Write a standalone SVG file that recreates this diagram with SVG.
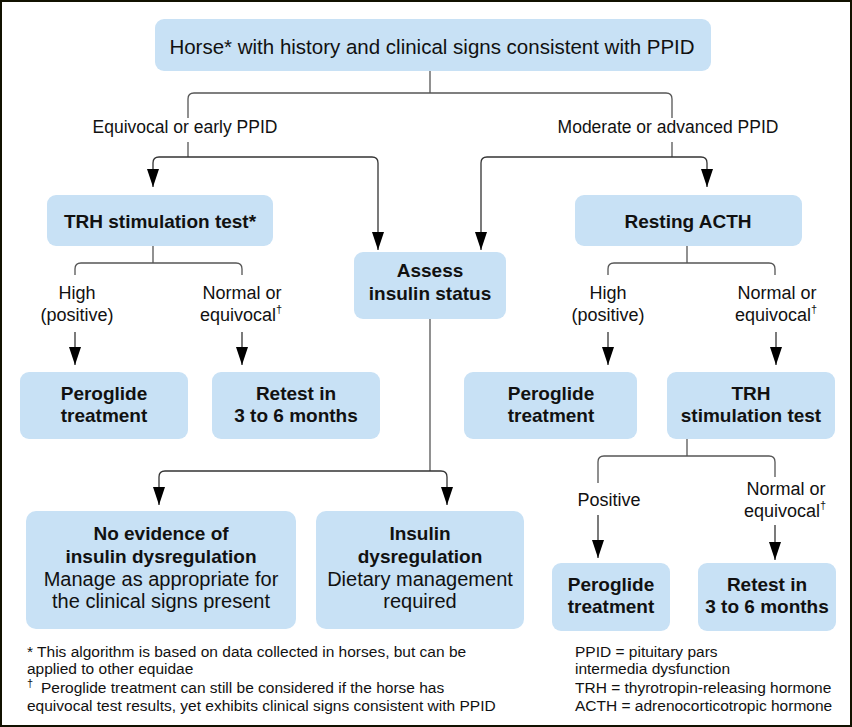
<svg xmlns="http://www.w3.org/2000/svg" width="852" height="727" viewBox="0 0 852 727">
<defs>
<marker id="ah" markerUnits="userSpaceOnUse" markerWidth="18" markerHeight="12" viewBox="0 0 18 12" refX="18" refY="6" orient="auto">
<path d="M0,0 L18,6 L0,12 z" fill="#000"/>
</marker>
<style>
.box{fill:#c8e1f5;}
.t{font-family:"Liberation Sans",Arial,sans-serif;fill:#111;}
.title{font-size:20.5px;text-anchor:middle;}
.b{font-size:19px;font-weight:bold;text-anchor:middle;}
.r{font-size:20px;text-anchor:middle;}
.lab{font-size:18px;text-anchor:middle;}
.lab2{font-size:17.5px;text-anchor:middle;}
.fn{font-size:15.5px;}
.sup{font-size:11px;}
.ln{fill:none;stroke:#555;stroke-width:1.3;}
.ar{fill:none;stroke:#333;stroke-width:1.3;marker-end:url(#ah);}
</style>
</defs>
<rect x="1" y="1" width="850" height="725" fill="#fff" stroke="#111100" stroke-width="2"/>

<g id="connectors">
<path class="ln" d="M430,71 V93"/>
<path class="ln" d="M188,118 V99 Q188,93 194,93 H666 Q672,93 672,99 V118"/>
<path class="ln" d="M188,142 V157"/>
<path class="ar" d="M188,157 H159 Q153,157 153,163 V187"/>
<path class="ar" d="M188,157 H372 Q378,157 378,163 V250"/>
<path class="ln" d="M672,142 V157"/>
<path class="ar" d="M672,157 H701 Q707,157 707,163 V187"/>
<path class="ar" d="M672,157 H487 Q481,157 481,163 V250"/>

<path class="ln" d="M153,246 V263"/>
<path class="ln" d="M75,275 V269 Q75,263 81,263 H236 Q242,263 242,269 V275"/>
<path class="ar" d="M75,332 V365"/>
<path class="ar" d="M242,332 V365"/>

<path class="ln" d="M687,246 V263"/>
<path class="ln" d="M608,275 V269 Q608,263 614,263 H769 Q775,263 775,269 V275"/>
<path class="ar" d="M608,332 V365"/>
<path class="ar" d="M776,332 V365"/>

<path class="ln" d="M430,319 V471"/>
<path class="ar" d="M430,471 H165 Q159,471 159,477 V505"/>
<path class="ar" d="M430,471 H441 Q447,471 447,477 V505"/>

<path class="ln" d="M687,438 V456"/>
<path class="ln" d="M598,483 V462 Q598,456 604,456 H769 Q775,456 775,462 V477"/>
<path class="ar" d="M598,515 V558"/>
<path class="ar" d="M775,525 V560"/>
</g>

<g id="n-top">
<rect class="box" x="155" y="19" width="556" height="52" rx="9"/>
<text class="t title" x="432" y="54">Horse* with history and clinical signs consistent with PPID</text>
</g>

<g id="lab-equivocal"><text class="t lab2" x="185" y="133">Equivocal or early PPID</text></g>
<g id="lab-moderate"><text class="t lab2" x="668" y="133">Moderate or advanced PPID</text></g>

<g id="n-trh1">
<rect class="box" x="47" y="195" width="226" height="51" rx="9"/>
<text class="t b" x="160" y="228">TRH stimulation test*</text>
</g>

<g id="n-acth">
<rect class="box" x="575" y="195" width="227" height="51" rx="9"/>
<text class="t b" x="688" y="228">Resting ACTH</text>
</g>

<g id="n-assess">
<rect class="box" x="354" y="252" width="152" height="67" rx="9"/>
<text class="t b" x="430" y="277">Assess</text>
<text class="t b" x="430" y="300">insulin status</text>
</g>

<g id="lab-high1"><text class="t lab" x="77" y="299">High</text><text class="t lab" x="77" y="321">(positive)</text></g>
<g id="lab-normal1"><text class="t lab" x="242" y="299">Normal or</text><text class="t lab" x="241" y="321">equivocal<tspan class="sup" dy="-8">†</tspan></text></g>
<g id="lab-high2"><text class="t lab" x="608" y="299">High</text><text class="t lab" x="608" y="321">(positive)</text></g>
<g id="lab-normal2"><text class="t lab" x="777" y="299">Normal or</text><text class="t lab" x="776" y="321">equivocal<tspan class="sup" dy="-8">†</tspan></text></g>

<g id="n-pero1">
<rect class="box" x="20" y="372" width="168" height="67" rx="9"/>
<text class="t b" x="104" y="400">Peroglide</text>
<text class="t b" x="104" y="422">treatment</text>
</g>

<g id="n-retest1">
<rect class="box" x="212" y="372" width="168" height="67" rx="9"/>
<text class="t b" x="296" y="400">Retest in</text>
<text class="t b" x="296" y="422">3 to 6 months</text>
</g>

<g id="n-pero2">
<rect class="box" x="464" y="372" width="173" height="67" rx="9"/>
<text class="t b" x="551" y="400">Peroglide</text>
<text class="t b" x="551" y="422">treatment</text>
</g>

<g id="n-trh2">
<rect class="box" x="667" y="372" width="168" height="67" rx="9"/>
<text class="t b" x="751" y="400">TRH</text>
<text class="t b" x="751" y="422">stimulation test</text>
</g>

<g id="lab-positive"><text class="t lab" x="609" y="506">Positive</text></g>
<g id="lab-normal3"><text class="t lab" x="786" y="495">Normal or</text><text class="t lab" x="785" y="517">equivocal<tspan class="sup" dy="-8">†</tspan></text></g>

<g id="n-noevidence">
<rect class="box" x="26" y="511" width="270" height="118" rx="10"/>
<text class="t b" x="161" y="540">No evidence of</text>
<text class="t b" x="161" y="563">insulin dysregulation</text>
<text class="t r" x="161" y="586">Manage as appropriate for</text>
<text class="t r" x="161" y="608">the clinical signs present</text>
</g>

<g id="n-insulin">
<rect class="box" x="316" y="511" width="208" height="118" rx="10"/>
<text class="t b" x="420" y="540">Insulin</text>
<text class="t b" x="420" y="563">dysregulation</text>
<text class="t r" x="420" y="586">Dietary management</text>
<text class="t r" x="420" y="608">required</text>
</g>

<g id="n-pero3">
<rect class="box" x="552" y="563" width="118" height="68" rx="9"/>
<text class="t b" x="611" y="591">Peroglide</text>
<text class="t b" x="611" y="613">treatment</text>
</g>

<g id="n-retest2">
<rect class="box" x="698" y="563" width="138" height="68" rx="9"/>
<text class="t b" x="767" y="591">Retest in</text>
<text class="t b" x="767" y="613">3 to 6 months</text>
</g>

<g id="footnotes">
<text class="t fn" x="27" y="657">* This algorithm is based on data collected in horses, but can be</text>
<text class="t fn" x="27" y="674">applied to other equidae</text>
<text class="t fn" x="27" y="693"><tspan class="sup" dy="-6">†</tspan><tspan x="41" dy="6">Peroglide treatment can still be considered if the horse has</tspan></text>
<text class="t fn" x="27" y="711">equivocal test results, yet exhibits clinical signs consistent with PPID</text>
<text class="t fn" x="575" y="657">PPID = pituitary pars</text>
<text class="t fn" x="575" y="674">intermedia dysfunction</text>
<text class="t fn" x="575" y="693">TRH = thyrotropin-releasing hormone</text>
<text class="t fn" x="575" y="711">ACTH = adrenocorticotropic hormone</text>
</g>
</svg>
